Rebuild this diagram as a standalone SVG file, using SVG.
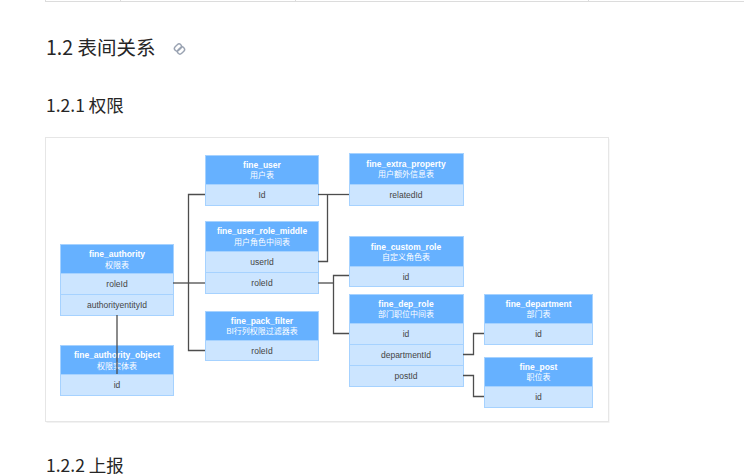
<svg xmlns="http://www.w3.org/2000/svg" width="744" height="476" viewBox="0 0 744 476">
<style>
.h{font-family:"Noto Sans CJK SC","Liberation Sans",sans-serif;fill:#262626}
.hd{fill:#66b1ff;stroke:#a6d2ff;stroke-width:1}
.rw{fill:#cce5ff;stroke:#a6d2ff;stroke-width:1}
.t{font-family:"Liberation Sans","Noto Sans CJK SC",sans-serif;font-size:8.5px;font-weight:bold;fill:#fff;text-anchor:middle}
.s{font-family:"Noto Sans CJK SC",sans-serif;font-size:8px;fill:#fff;text-anchor:middle}
.r{font-family:"Liberation Sans","Noto Sans CJK SC",sans-serif;font-size:8.5px;fill:#444;text-anchor:middle}
.c{fill:none;stroke:#4d4d4d;stroke-width:1.3}
</style>
<rect width="744" height="476" fill="#fff"/>
<g id="top-table" stroke="#dcdcdc" stroke-width="1">
<line x1="45" y1="1.5" x2="744" y2="1.5"/>
<line x1="45.5" y1="0" x2="45.5" y2="2"/>
<line x1="120.5" y1="0" x2="120.5" y2="2"/>
<line x1="295.5" y1="0" x2="295.5" y2="2"/>
<line x1="588.5" y1="0" x2="588.5" y2="2"/>
</g>
<text class="h" x="46" y="55" font-size="19.5">1.2 表间关系</text>
<g id="link-icon" fill="none" stroke="#9aa3b2" stroke-width="1.4">
<rect x="174" y="45" width="8" height="5" rx="2.5" transform="rotate(-45 178 47.5)"/>
<rect x="177" y="48" width="8" height="5" rx="2.5" transform="rotate(-45 181 50.5)"/>
</g>
<text class="h" x="46" y="112" font-size="17.5">1.2.1 权限</text>
<text class="h" x="46" y="471.5" font-size="17.5">1.2.2 上报</text>
<g id="card">
<rect x="46.5" y="139" width="563" height="284" fill="#f2f2f2"/>
<rect x="45.5" y="137.5" width="563" height="284" fill="#fff" stroke="#e6e6e6"/>
</g>
<g id="fine_user">
<rect class="hd" x="205.5" y="155.5" width="113" height="29"/>
<rect class="rw" x="205.5" y="184.5" width="113" height="21"/>
<text class="t" x="262" y="168">fine_user</text>
<text class="s" x="262" y="178">用户表</text>
<text class="r" x="262" y="198">Id</text>
</g>
<g id="fine_user_role_middle">
<rect class="hd" x="205.5" y="221.5" width="113" height="30"/>
<rect class="rw" x="205.5" y="251.5" width="113" height="21"/>
<rect class="rw" x="205.5" y="272.5" width="113" height="21"/>
<text class="t" x="262" y="234">fine_user_role_middle</text>
<text class="s" x="262" y="244.5">用户角色中间表</text>
<text class="r" x="262" y="265">userId</text>
<text class="r" x="262" y="286">roleId</text>
</g>
<g id="fine_pack_filter">
<rect class="hd" x="205.5" y="311.5" width="113" height="29"/>
<rect class="rw" x="205.5" y="340.5" width="113" height="20"/>
<text class="t" x="262" y="324">fine_pack_filter</text>
<text class="s" x="262" y="334">BI行列权限过滤器表</text>
<text class="r" x="262" y="353.5">roleId</text>
</g>
<g id="fine_authority">
<rect class="hd" x="60.5" y="244.5" width="113" height="29"/>
<rect class="rw" x="60.5" y="273.5" width="113" height="21"/>
<rect class="rw" x="60.5" y="294.5" width="113" height="21"/>
<text class="t" x="117" y="257">fine_authority</text>
<text class="s" x="117" y="267.5">权限表</text>
<text class="r" x="117" y="287">roleId</text>
<text class="r" x="117" y="308">authorityentityId</text>
</g>
<g id="fine_authority_object">
<rect class="hd" x="60.5" y="345.5" width="113" height="29"/>
<rect class="rw" x="60.5" y="374.5" width="113" height="21"/>
<text class="t" x="117" y="358">fine_authority_object</text>
<text class="s" x="117" y="368.5">权限实体表</text>
<text class="r" x="117" y="388">id</text>
</g>
<g id="fine_extra_property">
<rect class="hd" x="349.5" y="153.5" width="114" height="31"/>
<rect class="rw" x="349.5" y="184.5" width="114" height="21"/>
<text class="t" x="406" y="167">fine_extra_property</text>
<text class="s" x="406" y="177">用户额外信息表</text>
<text class="r" x="406" y="198">relatedId</text>
</g>
<g id="fine_custom_role">
<rect class="hd" x="349.5" y="236.5" width="114" height="30"/>
<rect class="rw" x="349.5" y="266.5" width="114" height="20"/>
<text class="t" x="406" y="249.5">fine_custom_role</text>
<text class="s" x="406" y="259.5">自定义角色表</text>
<text class="r" x="406" y="279.5">id</text>
</g>
<g id="fine_dep_role">
<rect class="hd" x="349.5" y="294.5" width="114" height="29"/>
<rect class="rw" x="349.5" y="323.5" width="114" height="21"/>
<rect class="rw" x="349.5" y="344.5" width="114" height="21"/>
<rect class="rw" x="349.5" y="365.5" width="114" height="21"/>
<text class="t" x="406" y="307">fine_dep_role</text>
<text class="s" x="406" y="317">部门职位中间表</text>
<text class="r" x="406" y="337">id</text>
<text class="r" x="406" y="358">departmentId</text>
<text class="r" x="406" y="379">postId</text>
</g>
<g id="fine_department">
<rect class="hd" x="484.5" y="294.5" width="108" height="29"/>
<rect class="rw" x="484.5" y="323.5" width="108" height="21"/>
<text class="t" x="538.5" y="307">fine_department</text>
<text class="s" x="538.5" y="317">部门表</text>
<text class="r" x="538.5" y="337">id</text>
</g>
<g id="fine_post">
<rect class="hd" x="484.5" y="357.5" width="108" height="29"/>
<rect class="rw" x="484.5" y="386.5" width="108" height="21"/>
<text class="t" x="538.5" y="370">fine_post</text>
<text class="s" x="538.5" y="380">职位表</text>
<text class="r" x="538.5" y="400">id</text>
</g>
<g id="connectors">
<path class="c" d="M318,194.5 H349"/>
<path class="c" d="M318,261.5 H327.5 V194.5"/>
<path class="c" d="M173,283 H205"/>
<path class="c" d="M205,194.5 H188.5 V350.5 H205"/>
<path class="c" d="M318,283 H333.5"/>
<path class="c" d="M349,275.5 H333.5 V333.5 H349"/>
<path class="c" d="M117,315 V374"/>
<path class="c" d="M463,354.5 H473.5 V333.5 H484"/>
<path class="c" d="M463,375.5 H473.5 V396.5 H484"/>
</g>
</svg>
